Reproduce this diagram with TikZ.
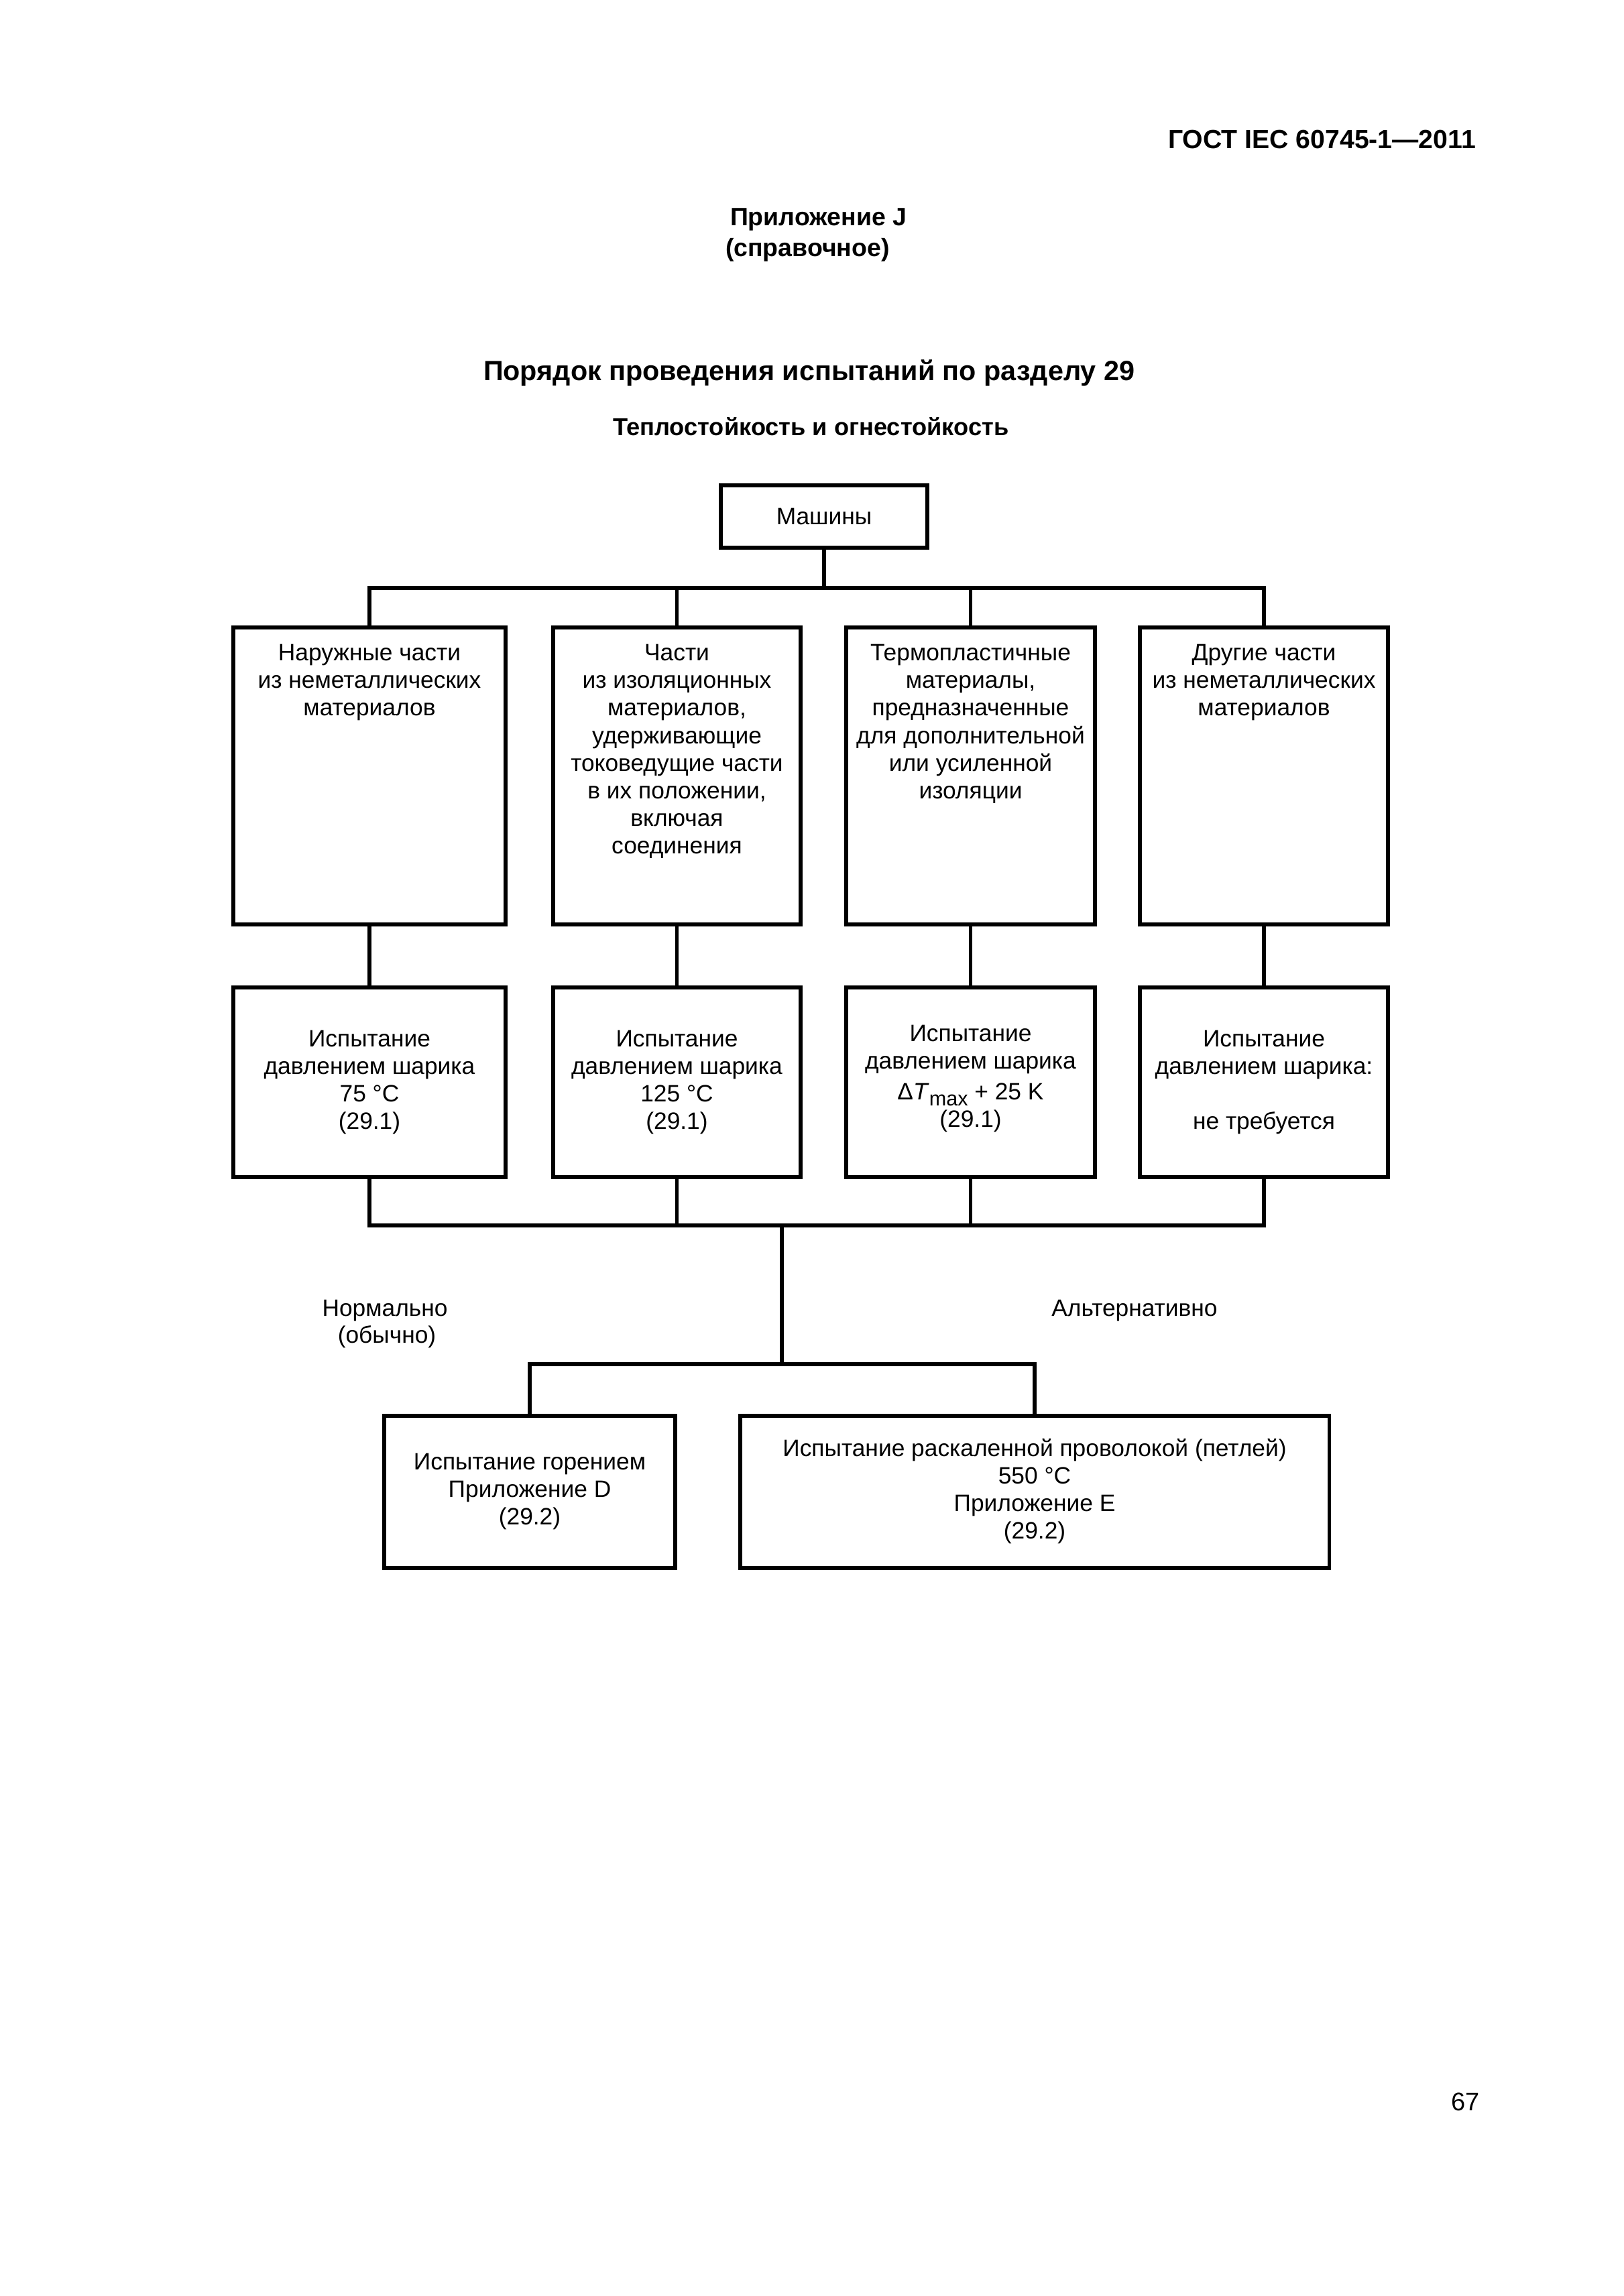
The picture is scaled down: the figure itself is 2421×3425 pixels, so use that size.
\documentclass[tikz,border=0pt]{standalone}
\usepackage{fontspec}
\setmainfont{Liberation Sans}
\begin{document}
\begin{tikzpicture}[x=0.01cm,y=-0.01cm,
  every node/.style={inner sep=0pt, outer sep=0pt},
  box/.style={draw, line width=0.055cm, rectangle},
  txt/.style={font=\fontsize{10.05pt}{11.67pt}\selectfont, align=center},
  ln/.style={line width=0.055cm},
  toptxt/.style={txt, anchor=north}]
\fill[white] (0,0) rectangle (2421,3425);
\useasboundingbox (0,0) rectangle (2421,3425);

% headings
\node[anchor=base east, font=\fontsize{11.15pt}{13pt}\selectfont\bfseries] (hdr) at (2201,222) {ГОСТ IEC 60745-1—2011};
\node[anchor=base west, font=\fontsize{10.65pt}{12pt}\selectfont\bfseries] (app) at (1089,337) {Приложение J};
\node[anchor=base west, font=\fontsize{10.65pt}{12pt}\selectfont\bfseries] (ref) at (1082,383) {(справочное)};
\node[anchor=base west, font=\fontsize{11.75pt}{14pt}\selectfont\bfseries] (title) at (721,568) {Порядок проведения испытаний по разделу 29};
\node[anchor=base west, font=\fontsize{10.3pt}{12pt}\selectfont\bfseries] (sub) at (914,650) {Теплостойкость и огнестойкость};

% top box
\node[box, txt, minimum width=3.08cm, minimum height=0.93cm] (m) at (1229,770.5) {Машины};

% row 1
\node[box, minimum width=4.06cm, minimum height=4.43cm] (a1) at (551,1157.5) {};
\node[box, minimum width=3.69cm, minimum height=4.43cm] (a2) at (1009.5,1157.5) {};
\node[box, minimum width=3.71cm, minimum height=4.43cm] (a3) at (1447.5,1157.5) {};
\node[box, minimum width=3.70cm, minimum height=4.43cm] (a4) at (1885,1157.5) {};
\node[toptxt] (a1t) at ([yshift=-0.213cm]a1.north) {\strut Наружные части\\из неметаллических\\материалов};
\node[toptxt] (a2t) at ([yshift=-0.213cm]a2.north) {\strut Части\\из изоляционных\\материалов,\\удерживающие\\токоведущие части\\в их положении,\\включая\\соединения};
\node[toptxt] (a3t) at ([yshift=-0.213cm]a3.north) {\strut Термопластичные\\материалы,\\предназначенные\\для дополнительной\\или усиленной\\изоляции};
\node[toptxt] (a4t) at ([yshift=-0.213cm]a4.north) {\strut Другие части\\из неметаллических\\материалов};

% row 2
\node[box, txt, minimum width=4.06cm, minimum height=2.83cm] (b1) at (551,1614.5) {\strut Испытание\\давлением шарика\\75 °C\\(29.1)\strut};
\node[box, txt, minimum width=3.69cm, minimum height=2.83cm] (b2) at (1009.5,1614.5) {\strut Испытание\\давлением шарика\\125 °C\\(29.1)\strut};
\node[box, minimum width=3.71cm, minimum height=2.83cm] (b3) at (1447.5,1614.5) {};
\node[txt] (b3t) at (1447.5,1609) {\strut Испытание\\давлением шарика\\[0.05cm]Δ\textit{T}\raisebox{-0.09cm}{\fontsize{8.7pt}{9pt}\selectfont max} + 25 K\\(29.1)\strut};
\node[box, txt, minimum width=3.70cm, minimum height=2.83cm] (b4) at (1885,1614.5) {\strut Испытание\\давлением шарика:\\~\\не требуется\strut};

% row 3
\node[box, txt, minimum width=4.34cm, minimum height=2.27cm] (c1) at (790,2225.5) {\strut Испытание горением\\Приложение D\\(29.2)\strut};
\node[box, txt, minimum width=8.78cm, minimum height=2.27cm] (c2) at (1543,2225.5) {\strut Испытание раскаленной проволокой (петлей)\\550 °C\\Приложение E\\(29.2)\strut};

% side labels
\node[txt, anchor=base] (norm) at (574,1963) {Нормально};
\node[txt, anchor=base] (norm2) at (577,2003) {(обычно)};
\node[txt, anchor=base] (alt) at (1692,1963) {Альтернативно};

% page number
\node[anchor=base east, font=\fontsize{10.8pt}{13pt}\selectfont] (pg) at (2207,3148) {67};

% connectors
\coordinate (bus1) at (1229,877);
\coordinate (bus2) at (1166,1828);
\coordinate (bus3) at (1166,2035);
\draw[ln] (m.south) -- (bus1);
\draw[ln] (a1.north) -- (a1.north |- bus1) -- (a4.north |- bus1) -- (a4.north);
\draw[ln] (a2.north) -- (a2.north |- bus1);
\draw[ln] (a3.north) -- (a3.north |- bus1);
\draw[ln] (a1.south) -- (b1.north);
\draw[ln] (a2.south) -- (b2.north);
\draw[ln] (a3.south) -- (b3.north);
\draw[ln] (a4.south) -- (b4.north);
\draw[ln] (b1.south) -- (b1.south |- bus2) -- (b4.south |- bus2) -- (b4.south);
\draw[ln] (b2.south) -- (b2.south |- bus2);
\draw[ln] (b3.south) -- (b3.south |- bus2);
\draw[ln] (bus2) -- (bus3);
\draw[ln] (c1.north) -- (c1.north |- bus3) -- (c2.north |- bus3) -- (c2.north);
\end{tikzpicture}
\end{document}
